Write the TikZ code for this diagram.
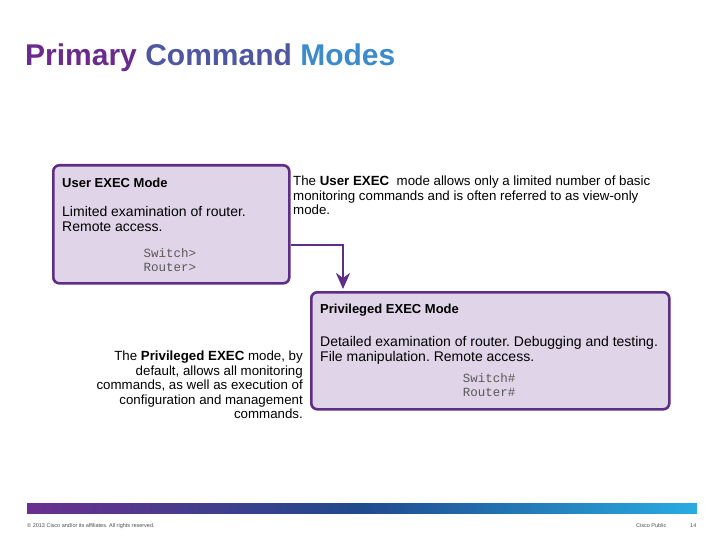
\documentclass[tikz,border=0pt]{standalone}
\usepackage{fontspec}
\setmainfont{Liberation Sans}
\setmonofont{Liberation Mono}
\usetikzlibrary{arrows.meta,positioning}
\frenchspacing
\definecolor{modeborder}{HTML}{5E2D86}
\definecolor{modefill}{HTML}{E0D4E8}
\definecolor{titlea}{HTML}{6A2B8C}
\definecolor{titleb}{HTML}{4E579F}
\definecolor{titlec}{HTML}{3C8BCA}
\definecolor{bara}{HTML}{6B2F8F}
\definecolor{barb}{HTML}{1F4A8E}
\definecolor{barc}{HTML}{29ABE2}
\tikzset{
 modebox/.style={draw=modeborder,fill=modefill,line width=2.6pt,rounded corners=6pt,
   anchor=north west,inner sep=0pt},
 modehead/.style={anchor=base west,inner sep=0pt,font=\bfseries\fontsize{13}{15}\selectfont},
 modetext/.style={anchor=base west,inner sep=0pt,align=left,font=\fontsize{14}{14.5}\selectfont},
 prompt/.style={inner sep=0pt,align=center,text=black!65,font=\ttfamily\fontsize{12.5}{13.5}\selectfont},
 note/.style={inner sep=0pt,font=\fontsize{13.3}{14.5}\selectfont},
 footer/.style={inner sep=0pt,anchor=base west,text=black!70,font=\fontsize{5.5}{6}\selectfont}
}
\begin{document}
\begin{tikzpicture}[x=1pt,y=-1pt]
 \useasboundingbox (0,0) rectangle (720,540);
 % title
 \node[anchor=base west,inner sep=0pt,font=\bfseries\fontsize{30}{34}\selectfont] (title) at (25,66)
  {\textcolor{titlea}{Primary} \textcolor{titleb}{Command} \textcolor{titlec}{Modes}};
 % user exec mode
 \node[modebox,minimum width=236pt,minimum height=118pt] (user) at (52,164) {};
 \node[modehead] (userhead) at (62,188) {User EXEC Mode};
 \node[modetext] (usertext) at (62,231) {Limited examination of router.\\Remote access.};
 \node[prompt] (userprompt) at (170,260) {Switch>\\Router>};
 \node[note,anchor=north west,align=left] (usernote) at (293,176)
  {The \textbf{User EXEC}\ \ mode allows only a limited number of basic\\
   monitoring commands and is often referred to as view-only\\mode.};
 % privileged exec mode
 \node[modebox,minimum width=358pt,minimum height=117pt] (priv) at (310,291) {};
 \node[modehead] (privhead) at (320,313) {Privileged EXEC Mode};
 \node[modetext] (privtext) at (320,361) {Detailed examination of router. Debugging and testing.\\File manipulation. Remote access.};
 \node[prompt] (privprompt) at (489,385) {Switch\#\\Router\#};
 \node[note,anchor=north east,align=right] (privnote) at (303,351)
  {The \textbf{Privileged EXEC} mode, by\\default, allows all monitoring\\
   commands, as well as execution of\\configuration and management\\commands.};
 % connector
 \coordinate (bend) at (343,245);
 \draw[modeborder,line width=2.6pt,-{Stealth[length=16pt,width=14pt,inset=5pt]},shorten >=2pt]
  (user.east |- bend) -- (bend) -- (bend |- priv.north);
 % footer
 \shade[left color=bara,right color=barc,middle color=barb] (27,503) rectangle (697,513);
 \node[footer] (copy) at (27,527) {\textcopyright\ 2013 Cisco and/or its affiliates. All rights reserved.};
 \node[footer] (public) at (636,527) {Cisco Public};
 \node[footer] (page) at (690,527) {14};
\end{tikzpicture}
\end{document}
